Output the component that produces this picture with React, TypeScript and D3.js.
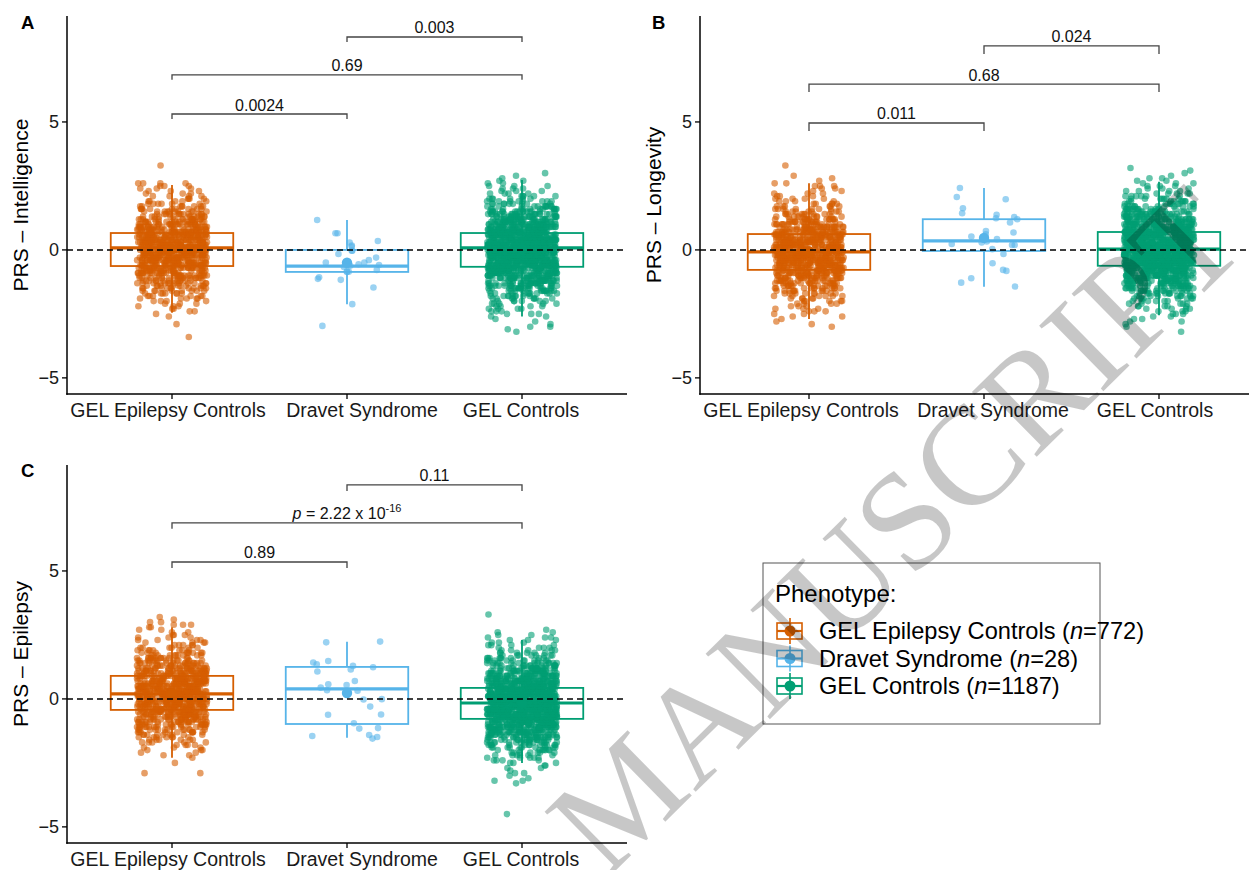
import React from 'react';
import * as d3 from 'd3';

// ---------- shared data ----------
const categories = ['GEL Epilepsy Controls', 'Dravet Syndrome', 'GEL Controls'];
const colors = ['#D55E00', '#56B4E9', '#009E73'];
const sampleSizes = [772, 28, 1187];
const yTicks = [-5, 0, 5];
const yDomain = [-5.63, 9.14];

// value bins (0.1 wide) used by the frequency tables of the two large groups
const bins = [-4.5,-4.4,-4.3,-4.2,-4.1,-4.0,-3.9,-3.8,-3.7,-3.6,-3.5,-3.4,-3.3,-3.2,-3.1,-3.0,-2.9,-2.8,-2.7,-2.6,-2.5,-2.4,-2.3,-2.2,-2.1,-2.0,-1.9,-1.8,-1.7,-1.6,-1.5,-1.4,-1.3,-1.2,-1.1,-1.0,-0.9,-0.8,-0.7,-0.6,-0.5,-0.4,-0.3,-0.2,-0.1,0.0,0.1,0.2,0.3,0.4,0.5,0.6,0.7,0.8,0.9,1.0,1.1,1.2,1.3,1.4,1.5,1.6,1.7,1.8,1.9,2.0,2.1,2.2,2.3,2.4,2.5,2.6,2.7,2.8,2.9,3.0,3.1,3.2,3.3,3.4];

// ---------- Panel A: Intelligence ----------
const gelEpilepsyCountsA = [
  0,0,0,0,0,0,0,0,0,0,
  0,1,0,0,0,0,1,0,0,1,
  1,2,2,3,3,4,5,6,7,8,
  10,11,13,14,16,18,20,22,24,25,
  27,28,29,30,31,32,32,31,30,29,
  28,26,25,23,21,19,17,15,13,12,
  10,9,8,6,5,4,4,3,3,3,
  3,4,0,0,0,0,0,0,1,0];
const dravetA = [1.17,0.65,0.65,0.35,0.29,0.17,0.13,-0.03,-0.03,-0.16,-0.30,-0.40,-0.49,-0.49,-0.56,-0.59,-0.67,-0.78,-0.85,-0.85,-0.85,-1.07,-1.13,-1.17,-1.47,-2.12,-2.97,-0.62];
const gelControlsCountsA = [
  0,0,0,0,0,0,0,0,0,0,
  0,0,0,1,1,2,1,1,1,2,
  3,3,4,4,5,6,8,9,11,13,
  16,18,21,23,26,29,32,35,38,40,
  43,45,46,47,48,48,48,47,46,45,
  43,40,38,35,32,29,26,23,21,18,
  16,13,11,9,8,6,5,4,3,3,
  3,2,2,1,1,1,0,0,0,0];
// [q1, median, q3, lower whisker, upper whisker, mean]
const boxStatsA = [
  [-0.63, 0.08, 0.66, -2.46, 2.54, 0.03],
  [-0.86, -0.63, 0.0, -2.12, 1.17, -0.5],
  [-0.66, 0.08, 0.66, -2.6, 2.73, 0.03]];
const bracketFromA = [0, 0, 1];
const bracketToA = [1, 2, 2];
const bracketYA = [5.31, 6.84, 8.32];
const bracketLabelA = ['0.0024', '0.69', '0.003'];

// ---------- Panel B: Longevity ----------
const gelEpilepsyCountsB = [
  0,0,0,0,0,0,0,0,0,0,
  0,0,0,0,0,1,1,1,1,2,
  2,3,3,3,4,5,5,6,8,9,
  11,12,14,16,18,20,22,24,26,27,
  29,30,31,32,32,31,30,29,28,27,
  25,24,22,20,18,16,14,13,11,9,
  8,7,6,5,4,4,3,3,2,2,
  3,2,1,1,1,0,0,0,1,0];
const dravetB = [2.42,2.07,1.98,1.63,1.43,1.37,1.28,1.24,1.2,1.07,0.74,0.68,0.61,0.52,0.42,0.33,0.29,0.23,0.19,0.19,0.03,-0.16,-0.52,-0.78,-0.82,-1.11,-1.28,-1.43];
const gelControlsCountsB = [
  0,0,0,0,0,0,0,0,0,0,
  0,0,0,1,0,1,1,2,2,2,
  3,3,4,5,5,6,8,9,11,13,
  15,18,20,23,26,29,32,35,38,40,
  42,44,46,47,48,48,48,47,46,44,
  42,40,37,35,32,29,26,23,21,18,
  16,14,12,10,8,7,6,5,4,3,
  3,3,2,2,1,1,1,1,0,0];
const boxStatsB = [
  [-0.78, -0.08, 0.62, -2.7, 2.6, -0.05],
  [-0.04, 0.35, 1.2, -1.44, 2.42, 0.47],
  [-0.62, 0.03, 0.7, -2.55, 2.66, 0.05]];
const bracketFromB = [0, 0, 1];
const bracketToB = [1, 2, 2];
const bracketYB = [4.96, 6.48, 7.97];
const bracketLabelB = ['0.011', '0.68', '0.024'];

// ---------- Panel C: Epilepsy ----------
const gelEpilepsyCountsC = [
  0,0,0,0,0,0,0,0,0,0,
  0,0,0,0,0,0,2,0,0,0,
  1,0,1,2,2,3,3,4,5,6,
  7,9,10,12,14,16,17,19,21,23,
  25,26,28,29,30,31,31,32,32,31,
  30,29,28,26,25,23,21,19,17,15,
  14,12,10,9,7,6,5,4,4,3,
  3,2,2,2,3,2,1,1,0,0];
const dravetC = [2.24,2.21,1.48,1.42,1.35,1.29,1.24,1.15,1.07,0.70,0.57,0.54,0.44,0.34,0.32,0.21,-0.01,-0.02,-0.30,-0.61,-0.62,-0.95,-1.14,-1.16,-1.41,-1.45,-1.49,-1.55];
const gelControlsCountsC = [
  1,0,0,0,0,0,0,0,0,0,
  0,0,1,2,1,1,2,1,2,2,
  3,4,5,6,7,8,10,12,14,16,
  19,22,25,28,31,34,37,40,43,45,
  46,48,49,49,49,48,46,45,43,40,
  38,35,32,29,26,23,21,18,16,13,
  11,9,8,6,5,4,4,3,3,3,
  2,2,1,0,0,0,0,0,1,0];
const boxStatsC = [
  [-0.43, 0.2, 0.9, -2.3, 2.8, 0.2],
  [-0.98, 0.39, 1.25, -1.52, 2.23, 0.23],
  [-0.78, -0.16, 0.43, -2.5, 2.3, -0.15]];
const bracketFromC = [0, 0, 1];
const bracketToC = [1, 2, 2];
const bracketYC = [5.35, 6.88, 8.36];
const bracketLabelC = ['0.89', 'P', '0.11'];

// ---------- layout ----------
const FONT = '"Liberation Sans", Arial, Helvetica, sans-serif';

const expand = (counts: number[]) => bins.flatMap((b, i) => Array(counts[i]).fill(b));

const jitter = (i: number, g: number) => {
  const s = Math.sin((i + 1) * 12.9898 + (g + 1) * 78.233) * 43758.5453;
  return (s - Math.floor(s)) * 2 - 1;
};

const panels = [
  {
    letter: 'A', title: 'PRS – Intelligence', axisX: 67, rangeX: [67, 627], xEnd: 627, top: 16, bottom: 394,
    titleX: 28, letterX: 21, letterY: 29, tip: 5, labelShift: [-4, 15, -1],
    groups: [expand(gelEpilepsyCountsA), dravetA, expand(gelControlsCountsA)],
    stats: boxStatsA, bFrom: bracketFromA, bTo: bracketToA, bY: bracketYA, bLab: bracketLabelA,
  },
  {
    letter: 'B', title: 'PRS – Longevity', axisX: 700, rangeX: [704, 1264], xEnd: 1249, top: 16, bottom: 394,
    titleX: 661, letterX: 652, letterY: 29, tip: 8, labelShift: [-8, 9, -4],
    groups: [expand(gelEpilepsyCountsB), dravetB, expand(gelControlsCountsB)],
    stats: boxStatsB, bFrom: bracketFromB, bTo: bracketToB, bY: bracketYB, bLab: bracketLabelB,
  },
  {
    letter: 'C', title: 'PRS – Epilepsy', axisX: 67, rangeX: [67, 627], xEnd: 627, top: 465, bottom: 843,
    titleX: 28, letterX: 21, letterY: 477, tip: 6, labelShift: [-4, 15, -1],
    groups: [expand(gelEpilepsyCountsC), dravetC, expand(gelControlsCountsC)],
    stats: boxStatsC, bFrom: bracketFromC, bTo: bracketToC, bY: bracketYC, bLab: bracketLabelC,
  },
];

function Panel({ p, pi }: { p: any; pi: number }) {
  const y = d3.scaleLinear().domain(yDomain).range([p.bottom, p.top]);
  const x = d3.scalePoint<string>().domain(categories).range(p.rangeX).padding(0.6);
  const step = x.step();
  const boxHalf = step * 0.35;
  const jw = step * 0.2;

  return (
    <g>
      {/* boxes */}
      {p.stats.map((s: number[], gi: number) => {
        const cx = x(categories[gi]) as number;
        const c = colors[gi];
        return (
          <g key={'box' + gi} stroke={c} fill="none">
            <line x1={cx} x2={cx} y1={y(s[4])} y2={y(s[2])} strokeWidth={1.8} />
            <line x1={cx} x2={cx} y1={y(s[0])} y2={y(s[3])} strokeWidth={1.8} />
            <rect x={cx - boxHalf} y={y(s[2])} width={boxHalf * 2} height={y(s[0]) - y(s[2])} strokeWidth={1.8} />
            <line x1={cx - boxHalf} x2={cx + boxHalf} y1={y(s[1])} y2={y(s[1])} strokeWidth={3.2} />
          </g>
        );
      })}
      {/* jittered points */}
      {p.groups.map((vals: number[], gi: number) => {
        const cx = x(categories[gi]) as number;
        return (
          <g key={'pts' + gi} fill={colors[gi]} fillOpacity={0.6}>
            {vals.map((v, i) => (
              <circle key={i} cx={cx + jitter(i, gi + pi * 3) * jw} cy={y(v)} r={3.3} />
            ))}
          </g>
        );
      })}
      {/* means */}
      {p.stats.map((s: number[], gi: number) => (
        <circle key={'m' + gi} cx={x(categories[gi]) as number} cy={y(s[5])} r={5.2} fill={colors[gi]} />
      ))}
      {/* reference line */}
      <line x1={p.axisX} x2={p.xEnd} y1={y(0)} y2={y(0)} stroke="#000" strokeWidth={1.5} strokeDasharray="6,4" />
      {/* axes */}
      <line x1={p.axisX} x2={p.axisX} y1={p.top} y2={p.bottom + 0.75} stroke="#000" strokeWidth={1.5} />
      <line x1={p.axisX - 0.75} x2={p.xEnd} y1={p.bottom} y2={p.bottom} stroke="#000" strokeWidth={1.5} />
      {yTicks.map((t) => (
        <g key={'yt' + t}>
          <line x1={p.axisX - 5} x2={p.axisX} y1={y(t)} y2={y(t)} stroke="#000" strokeWidth={1.3} />
          <text x={p.axisX - 8} y={y(t)} dy="0.35em" textAnchor="end" fontSize={18} fontFamily={FONT} fill="#1a1a1a">
            {t < 0 ? '\u2212' + Math.abs(t) : String(t)}
          </text>
        </g>
      ))}
      {categories.map((c, ci) => (
        <g key={'xt' + c}>
          <line x1={x(c) as number} x2={x(c) as number} y1={p.bottom} y2={p.bottom + 5} stroke="#000" strokeWidth={1.3} />
          <text x={(x(c) as number) + p.labelShift[ci]} y={p.bottom + 23} textAnchor="middle" fontSize={19.5} fontFamily={FONT} fill="#1a1a1a">{c}</text>
        </g>
      ))}
      <text transform={`translate(${p.titleX},${(p.top + p.bottom) / 2}) rotate(-90)`} textAnchor="middle" fontSize={21} fontFamily={FONT} fill="#000">{p.title}</text>
      <text x={p.letterX} y={p.letterY} fontSize={18.5} fontWeight="bold" fontFamily={FONT} fill="#000">{p.letter}</text>
      {/* significance brackets */}
      {p.bY.map((by: number, k: number) => {
        const x1 = x(categories[p.bFrom[k]]) as number;
        const x2 = x(categories[p.bTo[k]]) as number;
        const yy = y(by);
        const lab = p.bLab[k];
        return (
          <g key={'br' + k}>
            <path d={`M${x1},${yy + p.tip}V${yy}H${x2}V${yy + p.tip}`} fill="none" stroke="#444" strokeWidth={1.3} />
            <text x={(x1 + x2) / 2} y={yy - 3.5} textAnchor="middle" fontSize={16} fontFamily={FONT} fill="#111">
              {lab === 'P' ? (
                <>
                  <tspan fontStyle="italic">p</tspan>
                  <tspan> = 2.22 x 10</tspan>
                  <tspan fontSize={11} dy={-7}>-16</tspan>
                </>
              ) : lab}
            </text>
          </g>
        );
      })}
    </g>
  );
}

function Legend() {
  const rowY = [631, 658.5, 686];
  return (
    <g fontFamily={FONT}>
      <rect x={763} y={563} width={337} height={161} fill="#fff" stroke="#555" strokeWidth={1} />
      <text x={775} y={602} fontSize={24} fill="#000">Phenotype:</text>
      {categories.map((c, i) => {
        const cy = rowY[i];
        return (
          <g key={c}>
            <line x1={790} x2={790} y1={cy - 13} y2={cy + 13} stroke={colors[i]} strokeWidth={1.6} />
            <rect x={777} y={cy - 8} width={25} height={16} fill="none" stroke={colors[i]} strokeWidth={1.6} />
            <line x1={777} x2={802} y1={cy} y2={cy} stroke={colors[i]} strokeWidth={2.2} />
            <circle cx={790} cy={cy} r={5.5} fill={colors[i]} />
            <text x={819} y={cy + 8} fontSize={23.6} fill="#000">
              {c} (<tspan fontStyle="italic">n</tspan>={sampleSizes[i]})
            </text>
          </g>
        );
      })}
    </g>
  );
}

export default function App() {
  return (
    <svg width={1249} height={870} viewBox="0 0 1249 870" style={{ position: 'absolute', left: 0, top: 0, background: '#fff' }}>
      <rect width={1249} height={870} fill="#fff" />
      {panels.map((p, i) => <Panel key={p.letter} p={p} pi={i} />)}
      <Legend />
      <text transform="translate(606,880) rotate(-44.5)" fontSize={140} fontFamily='"Liberation Serif", "DejaVu Serif", serif' fill="#000" fillOpacity={0.22}>MANUSCRIPT</text>
    </svg>
  );
}
